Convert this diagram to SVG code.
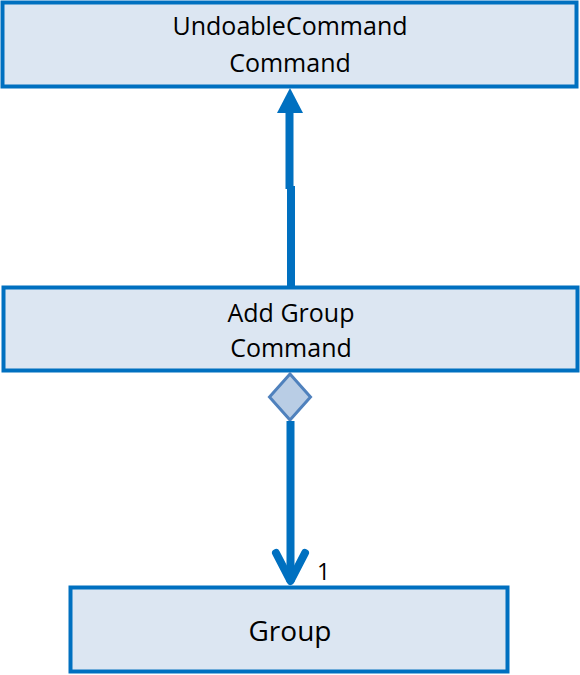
<svg xmlns="http://www.w3.org/2000/svg" width="580" height="675" viewBox="0 0 580 675">
<style>
.box{fill:#dce6f2;stroke:#0070c0;stroke-width:4}
.t{font-family:"Open Sans","Noto Sans",sans-serif;font-size:25px;fill:#000;text-anchor:middle}
.line{stroke:#0070c0;stroke-width:8;fill:none}
</style>
<rect width="580" height="675" fill="#fff"/>
<g id="undoable">
<rect class="box" x="2.5" y="2.5" width="574" height="84"/>
<text class="t" x="290" y="35">UndoableCommand</text>
<text class="t" x="290" y="72">Command</text>
</g>
<g id="addgroup">
<rect class="box" x="3.5" y="287.5" width="574" height="83"/>
<text class="t" x="291" y="322">Add Group</text>
<text class="t" x="291" y="357">Command</text>
</g>
<g id="group">
<rect class="box" x="70.5" y="587.5" width="437" height="84"/>
<text class="t" x="290" y="641" style="font-size:28px">Group</text>
</g>
<g id="connectors">
<path class="line" d="M291 286 V186 M289.5 189 V110"/>
<polygon points="290,88 303,113 277,113" fill="#0070c0"/>
<polygon points="290,374 310.5,397 290,420 269.5,397" fill="#b9cde5" stroke="#4f81bd" stroke-width="3"/>
<path class="line" d="M290.5 421 V582"/>
<path class="line" d="M276 553 L290.5 581 L305 553" stroke-linecap="round" stroke-linejoin="round"/>
<text x="317" y="580" style="font-family:'Open Sans','Noto Sans',sans-serif;font-size:23px">1</text>
</g>
</svg>
